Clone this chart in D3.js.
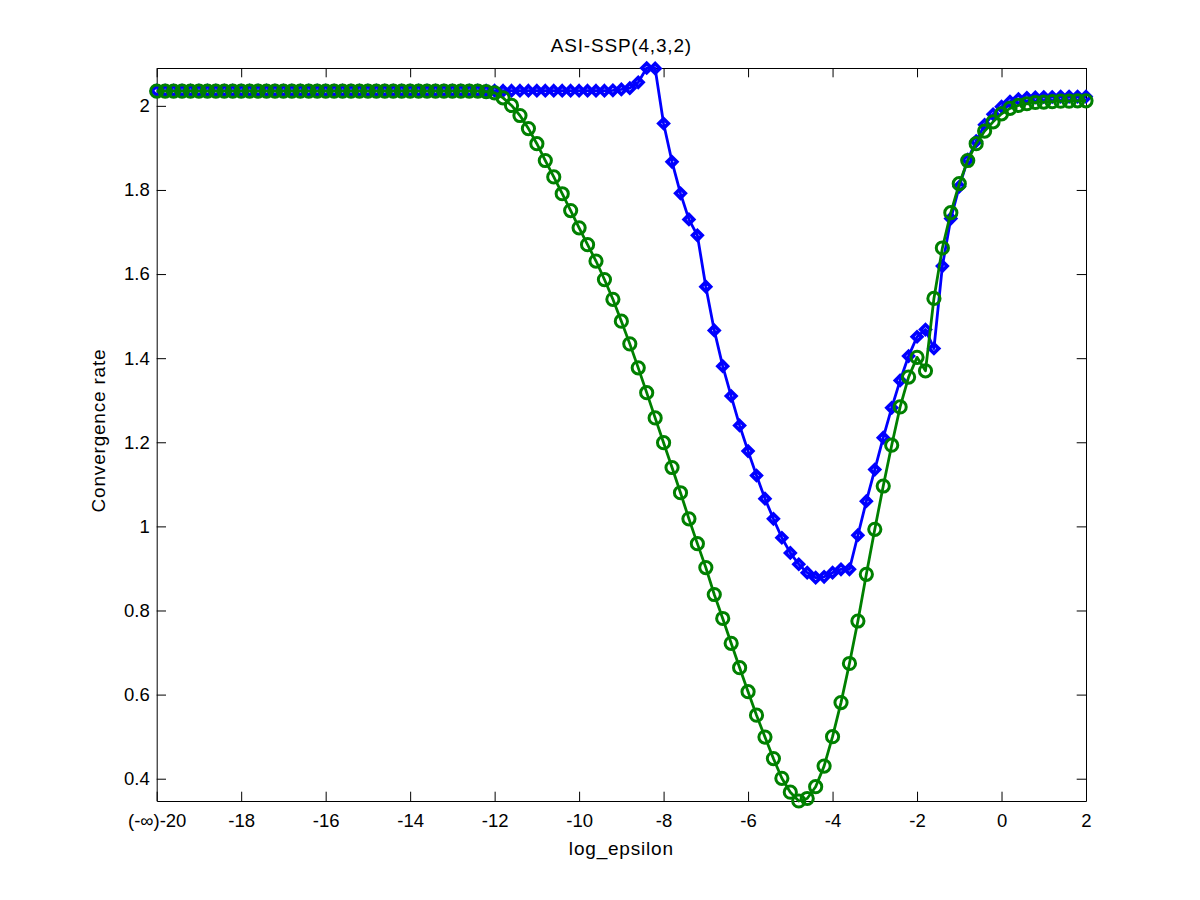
<!DOCTYPE html>
<html>
<head>
<meta charset="utf-8">
<script src="https://d3js.org/d3.v7.min.js"></script>
<style>
body { margin: 0; background: #fff; }
text { font-family: "Liberation Sans", Arial, sans-serif; fill: #000; }
</style>
</head>
<body>
<div id="plot"></div>
<script>
// sample grid (log epsilon), step 0.2
const logEps = [
  -20, -19.8, -19.6, -19.4, -19.2, -19, -18.8, -18.6, -18.4, -18.2,
  -18, -17.8, -17.6, -17.4, -17.2, -17, -16.8, -16.6, -16.4, -16.2,
  -16, -15.8, -15.6, -15.4, -15.2, -15, -14.8, -14.6, -14.4, -14.2,
  -14, -13.8, -13.6, -13.4, -13.2, -13, -12.8, -12.6, -12.4, -12.2,
  -12, -11.8, -11.6, -11.4, -11.2, -11, -10.8, -10.6, -10.4, -10.2,
  -10, -9.8, -9.6, -9.4, -9.2, -9, -8.8, -8.6, -8.4, -8.2,
  -8, -7.8, -7.6, -7.4, -7.2, -7, -6.8, -6.6, -6.4, -6.2,
  -6, -5.8, -5.6, -5.4, -5.2, -5, -4.8, -4.6, -4.4, -4.2,
  -4, -3.8, -3.6, -3.4, -3.2, -3, -2.8, -2.6, -2.4, -2.2,
  -2, -1.8, -1.6, -1.4, -1.2, -1, -0.8, -0.6, -0.4, -0.2,
  0, 0.2, 0.4, 0.6, 0.8, 1, 1.2, 1.4, 1.6, 1.8,
  2
];

// blue series (diamonds)
const rateBlue = [
  2.036, 2.036, 2.036, 2.036, 2.036, 2.036, 2.036, 2.036, 2.036, 2.036,
  2.036, 2.036, 2.036, 2.036, 2.036, 2.036, 2.036, 2.036, 2.036, 2.036,
  2.036, 2.036, 2.036, 2.036, 2.036, 2.036, 2.036, 2.036, 2.036, 2.036,
  2.036, 2.036, 2.036, 2.036, 2.036, 2.036, 2.036, 2.036, 2.036, 2.036,
  2.036, 2.036, 2.036, 2.036, 2.036, 2.036, 2.036, 2.036, 2.036, 2.036,
  2.036, 2.036, 2.036, 2.036, 2.037, 2.039, 2.042, 2.056, 2.090, 2.089,
  1.958, 1.867, 1.792, 1.730, 1.692, 1.570, 1.466, 1.381, 1.310, 1.240,
  1.179, 1.121, 1.066, 1.018, 0.973, 0.937, 0.910, 0.890, 0.878, 0.880,
  0.890, 0.898, 0.898, 0.979, 1.060, 1.135, 1.211, 1.282, 1.347, 1.405,
  1.451, 1.468, 1.423, 1.619, 1.732, 1.808, 1.872, 1.916, 1.955, 1.980,
  1.998, 2.010, 2.016, 2.019, 2.020, 2.021, 2.021, 2.022, 2.022, 2.022,
  2.022
];

// green series (circles)
const rateGreen = [
  2.035, 2.035, 2.035, 2.035, 2.035, 2.035, 2.035, 2.035, 2.035, 2.035,
  2.035, 2.035, 2.035, 2.035, 2.035, 2.035, 2.035, 2.035, 2.035, 2.035,
  2.035, 2.035, 2.035, 2.035, 2.035, 2.035, 2.035, 2.035, 2.035, 2.035,
  2.035, 2.035, 2.035, 2.035, 2.035, 2.035, 2.035, 2.035, 2.035, 2.034,
  2.031, 2.019, 2.001, 1.977, 1.946, 1.910, 1.870, 1.831, 1.791, 1.751,
  1.710, 1.670, 1.631, 1.587, 1.540, 1.488, 1.434, 1.377, 1.318, 1.258,
  1.199, 1.140, 1.080, 1.018, 0.959, 0.902, 0.838, 0.781, 0.722, 0.664,
  0.607, 0.551, 0.499, 0.448, 0.401, 0.368, 0.347, 0.353, 0.381, 0.430,
  0.500, 0.581, 0.674, 0.775, 0.886, 0.993, 1.096, 1.193, 1.284, 1.355,
  1.402, 1.370, 1.542, 1.662, 1.746, 1.815, 1.870, 1.910, 1.940, 1.962,
  1.981, 1.994, 2.001, 2.005, 2.008, 2.009, 2.010, 2.011, 2.011, 2.012,
  2.012
];

const xTicks = [-20, -18, -16, -14, -12, -10, -8, -6, -4, -2, 0, 2];
const xTickLabels = ["(-\u221e)-20", "-18", "-16", "-14", "-12", "-10", "-8", "-6", "-4", "-2", "0", "2"];
const yTicks = [0.4, 0.6, 0.8, 1, 1.2, 1.4, 1.6, 1.8, 2];

const titleText = "ASI-SSP(4,3,2)";
const xLabel = "log_epsilon";
const yLabel = "Convergence rate";

let margin = {top: 68, right: 114, bottom: 99, left: 156.7},
  width = 1200 - margin.left - margin.right,
  height = 900 - margin.top - margin.bottom;

let svg = d3.select("#plot")
  .append("svg")
    .attr("width", 1200)
    .attr("height", 900)
  .append("g")
    .attr("transform", "translate(" + margin.left + "," + margin.top + ")");

let x = d3.scaleLinear()
  .domain([xTicks[0], xTicks[xTicks.length - 1]])
  .range([0, width]);

// axis tight: y range is the data range
let y = d3.scaleLinear()
  .domain(d3.extent(rateBlue.concat(rateGreen)))
  .range([height, 0]);

const tickLen = 9.3;
const tickFont = 18.5;
const labelFont = 19;

function styleAxis(g) {
  g.attr("font-size", tickFont).attr("font-family", null);
  g.select(".domain").attr("stroke", "#000");
  g.selectAll(".tick line").attr("stroke", "#000");
}

svg.append("g")
  .attr("transform", "translate(0," + height + ")")
  .call(d3.axisBottom(x).tickValues(xTicks)
    .tickFormat((d, i) => xTickLabels[i])
    .tickSizeInner(-tickLen).tickSizeOuter(0).tickPadding(12.5))
  .call(styleAxis);

svg.append("g")
  .call(d3.axisTop(x).tickValues(xTicks).tickFormat("")
    .tickSizeInner(-tickLen).tickSizeOuter(0))
  .call(styleAxis);

svg.append("g")
  .call(d3.axisLeft(y).tickValues(yTicks)
    .tickFormat(d => String(+d.toFixed(1)))
    .tickSizeInner(-tickLen).tickSizeOuter(0).tickPadding(7))
  .call(styleAxis);

svg.append("g")
  .attr("transform", "translate(" + width + ",0)")
  .call(d3.axisRight(y).tickValues(yTicks).tickFormat("")
    .tickSizeInner(-tickLen).tickSizeOuter(0))
  .call(styleAxis);

// labels
svg.append("text")
  .attr("x", width / 2)
  .attr("y", 52 - margin.top)
  .attr("text-anchor", "middle")
  .attr("font-size", labelFont)
  .attr("letter-spacing", 0.8)
  .text(titleText);

svg.append("text")
  .attr("x", width / 2)
  .attr("y", height + 54)
  .attr("text-anchor", "middle")
  .attr("font-size", labelFont)
  .attr("letter-spacing", 0.8)
  .text(xLabel);

svg.append("text")
  .attr("transform", "rotate(-90)")
  .attr("x", -height / 2 + 4)
  .attr("y", 105 - margin.left)
  .attr("text-anchor", "middle")
  .attr("font-size", labelFont)
  .attr("letter-spacing", 0.8)
  .text(yLabel);

let line = d3.line()
  .x((d, i) => x(logEps[i]))
  .y(d => y(d));

const lw = 2.8;

// blue: line then diamonds
svg.append("path")
  .datum(rateBlue)
  .attr("d", line)
  .attr("fill", "none")
  .attr("stroke", "#0000ff")
  .attr("stroke-width", lw)
  .attr("stroke-linejoin", "round");

const dr = 4.8;
svg.append("g")
  .selectAll("path")
  .data(rateBlue)
  .enter()
  .append("path")
    .attr("transform", (d, i) => "translate(" + x(logEps[i]) + "," + y(d) + ")")
    .attr("d", "M0," + (-dr) + "L" + dr + ",0L0," + dr + "L" + (-dr) + ",0Z")
    .attr("fill", "none")
    .attr("stroke", "#0000ff")
    .attr("stroke-width", 3.6);

// green: line then circles
svg.append("path")
  .datum(rateGreen)
  .attr("d", line)
  .attr("fill", "none")
  .attr("stroke", "#008000")
  .attr("stroke-width", lw)
  .attr("stroke-linejoin", "round");

svg.append("g")
  .selectAll("circle")
  .data(rateGreen)
  .enter()
  .append("circle")
    .attr("cx", (d, i) => x(logEps[i]))
    .attr("cy", d => y(d))
    .attr("r", 6.1)
    .attr("fill", "none")
    .attr("stroke", "#008000")
    .attr("stroke-width", 3);
</script>
</body>
</html>
